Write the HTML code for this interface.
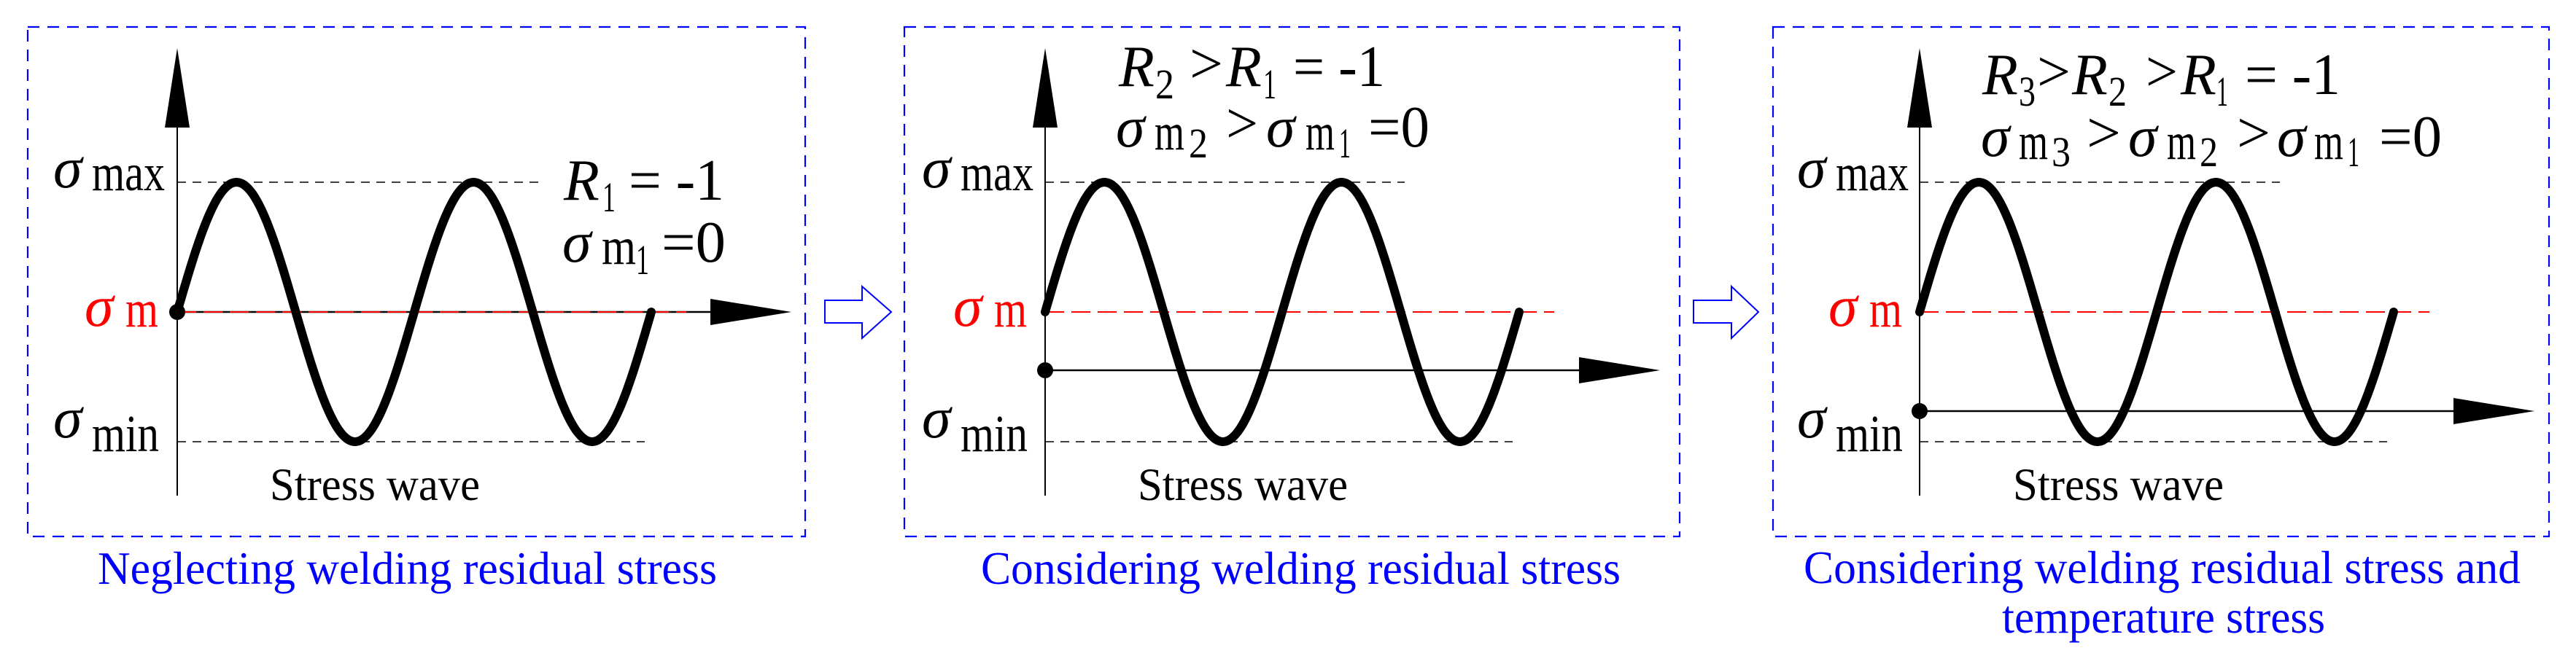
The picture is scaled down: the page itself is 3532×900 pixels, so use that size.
<!DOCTYPE html>
<html><head><meta charset="utf-8">
<style>
html,body{margin:0;padding:0;background:#fff;}
svg{display:block;font-family:"Liberation Serif","Times New Roman",serif;}
svg text{font-family:"Liberation Serif","Times New Roman",serif;}
.it{font-style:italic;}
</style></head>
<body>
<svg id="s" width="3532" height="900" viewBox="0 0 3532 900" xmlns="http://www.w3.org/2000/svg" font-family="Liberation Serif, Times New Roman, serif">
<g fill="none" stroke="#0000ff" stroke-width="2.2" stroke-dasharray="16,11">
<rect x="38" y="37" width="1066" height="699"/>
<rect x="1240" y="37" width="1063" height="699"/>
<rect x="2431" y="37" width="1064" height="699"/>
</g>
<polygon points="1131,412 1182,412 1182,393 1222,428 1182,464 1182,443 1131,443" fill="#fff" stroke="#0000ff" stroke-width="2"/>
<polygon points="2322,412 2374,412 2374,393 2411,428 2374,464 2374,443 2322,443" fill="#fff" stroke="#0000ff" stroke-width="2"/>
<g id="panels"></g>
<g font-size="80" fill="#000" font-family="Liberation Serif, Times New Roman, serif">
<text x="73" y="257" class="it" font-style="italic">σ</text><text x="126" y="261" font-size="72" textLength="100" lengthAdjust="spacingAndGlyphs">max</text>
<text x="116" y="447" font-style="italic" fill="#ff0000">σ</text><text x="172" y="448" font-size="72" fill="#ff0000" textLength="45" lengthAdjust="spacingAndGlyphs">m</text>
<text x="73" y="600" font-style="italic">σ</text><text x="126" y="619" font-size="72" textLength="92" lengthAdjust="spacingAndGlyphs">min</text>
<text x="370" y="686" font-size="64" textLength="288" lengthAdjust="spacingAndGlyphs">Stress wave</text>
<text x="773" y="274" font-style="italic">R</text><text x="826" y="290" font-size="58" textLength="18" lengthAdjust="spacingAndGlyphs">1</text><text x="862" y="274" textLength="131" lengthAdjust="spacingAndGlyphs">= -1</text>
<text x="771" y="359" font-style="italic">σ</text><text x="825" y="362" font-size="72" textLength="47" lengthAdjust="spacingAndGlyphs">m</text><text x="872" y="376" font-size="58" textLength="18" lengthAdjust="spacingAndGlyphs">1</text><text x="907" y="359" textLength="88" lengthAdjust="spacingAndGlyphs">=0</text>
</g>
<g font-size="80" fill="#000" font-family="Liberation Serif, Times New Roman, serif">
<text x="1264" y="257" font-style="italic">σ</text><text x="1317" y="261" font-size="72" textLength="100" lengthAdjust="spacingAndGlyphs">max</text>
<text x="1307" y="447" font-style="italic" fill="#ff0000">σ</text><text x="1363" y="448" font-size="72" fill="#ff0000" textLength="45" lengthAdjust="spacingAndGlyphs">m</text>
<text x="1264" y="600" font-style="italic">σ</text><text x="1317" y="619" font-size="72" textLength="92" lengthAdjust="spacingAndGlyphs">min</text>
<text x="1560" y="686" font-size="64" textLength="288" lengthAdjust="spacingAndGlyphs">Stress wave</text>
<text x="1534" y="118" font-style="italic">R</text><text x="1584" y="135" font-size="58" textLength="26" lengthAdjust="spacingAndGlyphs">2</text><text x="1631" y="114" textLength="46" lengthAdjust="spacingAndGlyphs">&gt;</text>
<text x="1681" y="118" font-style="italic">R</text><text x="1732" y="135" font-size="58" textLength="18" lengthAdjust="spacingAndGlyphs">1</text><text x="1773" y="118" textLength="126" lengthAdjust="spacingAndGlyphs">= -1</text>
<text x="1530" y="201" font-style="italic">σ</text><text x="1583" y="205" font-size="72" textLength="41" lengthAdjust="spacingAndGlyphs">m</text><text x="1630" y="216" font-size="58" textLength="26" lengthAdjust="spacingAndGlyphs">2</text>
<text x="1681" y="196" textLength="44" lengthAdjust="spacingAndGlyphs">&gt;</text>
<text x="1736" y="201" font-style="italic">σ</text><text x="1790" y="205" font-size="72" textLength="40" lengthAdjust="spacingAndGlyphs">m</text><text x="1836" y="216" font-size="58" textLength="16" lengthAdjust="spacingAndGlyphs">1</text>
<text x="1876" y="201" textLength="84" lengthAdjust="spacingAndGlyphs">=0</text>
</g>
<g font-size="80" fill="#000" font-family="Liberation Serif, Times New Roman, serif">
<text x="2464" y="257" font-style="italic">σ</text><text x="2517" y="261" font-size="72" textLength="100" lengthAdjust="spacingAndGlyphs">max</text>
<text x="2507" y="447" font-style="italic" fill="#ff0000">σ</text><text x="2563" y="448" font-size="72" fill="#ff0000" textLength="45" lengthAdjust="spacingAndGlyphs">m</text>
<text x="2464" y="600" font-style="italic">σ</text><text x="2517" y="619" font-size="72" textLength="92" lengthAdjust="spacingAndGlyphs">min</text>
<text x="2760" y="686" font-size="64" textLength="289" lengthAdjust="spacingAndGlyphs">Stress wave</text>
<text x="2718" y="129" font-style="italic">R</text><text x="2768" y="145" font-size="58" textLength="23" lengthAdjust="spacingAndGlyphs">3</text><text x="2793" y="125" textLength="46" lengthAdjust="spacingAndGlyphs">&gt;</text>
<text x="2841" y="129" font-style="italic">R</text><text x="2891" y="145" font-size="58" textLength="25" lengthAdjust="spacingAndGlyphs">2</text><text x="2942" y="125" textLength="44" lengthAdjust="spacingAndGlyphs">&gt;</text>
<text x="2990" y="129" font-style="italic">R</text><text x="3039" y="145" font-size="58" textLength="16" lengthAdjust="spacingAndGlyphs">1</text><text x="3078" y="129" textLength="131" lengthAdjust="spacingAndGlyphs">= -1</text>
<text x="2716" y="214" font-style="italic">σ</text><text x="2768" y="218" font-size="72" textLength="40" lengthAdjust="spacingAndGlyphs">m</text><text x="2813" y="228" font-size="58" textLength="26" lengthAdjust="spacingAndGlyphs">3</text>
<text x="2861" y="209" textLength="47" lengthAdjust="spacingAndGlyphs">&gt;</text>
<text x="2918" y="214" font-style="italic">σ</text><text x="2971" y="218" font-size="72" textLength="40" lengthAdjust="spacingAndGlyphs">m</text><text x="3016" y="228" font-size="58" textLength="25" lengthAdjust="spacingAndGlyphs">2</text>
<text x="3067" y="209" textLength="46" lengthAdjust="spacingAndGlyphs">&gt;</text>
<text x="3122" y="214" font-style="italic">σ</text><text x="3173" y="218" font-size="72" textLength="40" lengthAdjust="spacingAndGlyphs">m</text><text x="3219" y="228" font-size="58" textLength="16" lengthAdjust="spacingAndGlyphs">1</text>
<text x="3262" y="214" textLength="86" lengthAdjust="spacingAndGlyphs">=0</text>
</g>
<g font-size="64" fill="#0000ff" font-family="Liberation Serif, Times New Roman, serif">
<text x="134" y="801" textLength="849" lengthAdjust="spacingAndGlyphs">Neglecting welding residual stress</text>
<text x="1345" y="801" textLength="877" lengthAdjust="spacingAndGlyphs">Considering welding residual stress</text>
<text x="2473" y="800" textLength="983" lengthAdjust="spacingAndGlyphs">Considering welding residual stress and</text>
<text x="2745" y="868" textLength="443" lengthAdjust="spacingAndGlyphs">temperature stress</text>
</g>
</svg>
<script>
(function(){
var NS="http://www.w3.org/2000/svg";
var g=document.getElementById("panels");
function el(t,a){var e=document.createElementNS(NS,t);for(var k in a)e.setAttribute(k,a[k]);g.appendChild(e);return e;}
var P=[
 {A:243,xa:428,tip:1085,red:941,max:738,min:884},
 {A:1433,xa:508,tip:2276,red:2131,max:1926,min:2074},
 {A:2632,xa:564,tip:3475,red:3331,max:3126,min:3273}
];
P.forEach(function(p){
 var A=p.A;
 el("line",{x1:A,y1:250,x2:p.max,y2:250,stroke:"#000","stroke-width":1.6,"stroke-dasharray":"12,9"});
 el("line",{x1:A,y1:606,x2:p.min,y2:606,stroke:"#000","stroke-width":1.6,"stroke-dasharray":"12,9"});
 el("line",{x1:A,y1:160,x2:A,y2:680,stroke:"#000","stroke-width":2});
 el("polygon",{points:A+",66 "+(A-17)+",175 "+(A+17)+",175",fill:"#000"});
 el("line",{x1:A,y1:p.xa,x2:p.tip-100,y2:p.xa,stroke:"#000","stroke-width":2.4});
 el("polygon",{points:p.tip+","+p.xa+" "+(p.tip-111)+","+(p.xa-18)+" "+(p.tip-111)+","+(p.xa+18),fill:"#000"});
 el("line",{x1:A,y1:428,x2:p.red,y2:428,stroke:"#ff0000","stroke-width":2,"stroke-dasharray":"26,10"});
 var d="";
 for(var i=0;i<=650;i+=2){var x=A+i,y=428-178*Math.sin(2*Math.PI*i/325);d+=(i?"L":"M")+x.toFixed(1)+","+y.toFixed(1);}
 el("path",{d:d,fill:"none",stroke:"#000","stroke-width":12,"stroke-linecap":"round","stroke-linejoin":"round"});
 el("circle",{cx:A,cy:p.xa,r:11,fill:"#000"});
});
})();
</script>
</body></html>
